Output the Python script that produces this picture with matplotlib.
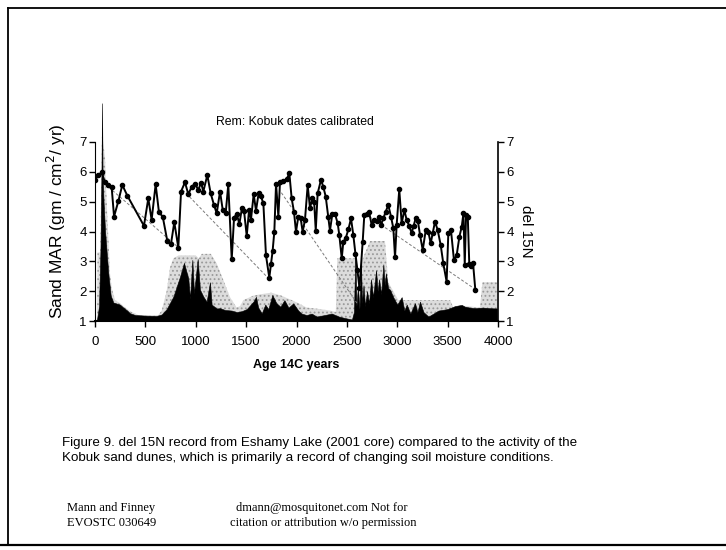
import matplotlib
matplotlib.use("Agg")
import matplotlib.pyplot as plt
from matplotlib.lines import Line2D

# ---------------- data ----------------
d15n_age = [0, 33, 66, 99, 132, 165, 189, 232, 271, 321, 486, 529, 562, 602, 635, 672,
            718, 754, 787, 827, 854, 893, 926, 960, 993, 1026, 1052, 1075, 1115, 1148,
            1181, 1208, 1241, 1268, 1297, 1323, 1357, 1380, 1406, 1433, 1459, 1479, 1506,
            1529, 1548, 1575, 1598, 1625, 1644, 1671, 1697, 1730, 1747, 1763, 1780, 1797,
            1820, 1836, 1869, 1902, 1929, 1952, 1975, 1995, 2018, 2041, 2061, 2084, 2111,
            2134, 2157, 2175, 2191, 2210, 2243, 2266, 2290, 2316, 2332, 2356, 2382, 2409,
            2425, 2449, 2465, 2488, 2515, 2541, 2564, 2585, 2605, 2625, 2657, 2673, 2697,
            2720, 2746, 2773, 2800, 2819, 2839, 2862, 2885, 2911, 2938, 2961, 2978, 2994,
            3020, 3044, 3070, 3094, 3118, 3143, 3163, 3183, 3205, 3226, 3253, 3283, 3308,
            3332, 3352, 3375, 3401, 3431, 3457, 3490, 3507, 3533, 3563, 3590, 3617, 3640,
            3657, 3670, 3683, 3700, 3715, 3735, 3752, 3775]
d15n_val = [5.73, 5.89, 5.98, 5.65, 5.56, 5.50, 4.50, 5.02, 5.56, 5.20, 4.19, 5.11, 4.39,
            5.58, 4.64, 4.50, 3.68, 3.58, 4.31, 3.46, 5.34, 5.65, 5.25, 5.50, 5.60, 5.39,
            5.64, 5.34, 5.89, 5.28, 4.89, 4.61, 5.34, 4.72, 4.61, 5.58, 3.07, 4.45, 4.60,
            4.25, 4.80, 4.70, 3.85, 4.72, 4.40, 5.25, 4.70, 5.30, 5.20, 4.95, 3.20, 2.45,
            2.90, 3.35, 4.00, 5.60, 4.50, 5.65, 5.70, 5.75, 5.95, 5.11, 4.66, 3.99, 4.50,
            4.45, 3.99, 4.39, 5.55, 4.78, 5.11, 5.00, 4.03, 5.28, 5.73, 5.50, 5.17, 4.47,
            4.03, 4.59, 4.59, 4.27, 3.88, 3.10, 3.66, 3.77, 4.07, 4.44, 3.88, 3.25, 2.70,
            2.10, 3.66, 4.55, 4.60, 4.66, 4.22, 4.39, 4.35, 4.50, 4.22, 4.44, 4.66, 4.89,
            4.50, 4.11, 3.13, 4.22, 5.41, 4.27, 4.72, 4.38, 4.20, 3.94, 4.20, 4.44, 4.35,
            3.88, 3.38, 4.05, 4.00, 3.60, 3.95, 4.33, 4.05, 3.55, 2.93, 2.32, 3.94, 4.05,
            3.04, 3.21, 3.83, 4.16, 4.61, 2.88, 4.55, 4.50, 2.90, 2.85, 2.95, 2.04]

# Sand MAR (black record)
mar_age = [0, 20, 40, 55, 65, 70, 75, 85, 100, 116, 132, 156, 182, 248, 281, 320, 347,
           400, 500, 612, 662, 711, 778, 844, 883, 926, 943, 966, 983, 1019, 1042, 1075,
           1108, 1141, 1158, 1208, 1241, 1290, 1357, 1406, 1456, 1506, 1572, 1598, 1620,
           1655, 1690, 1720, 1760, 1800, 1840, 1880, 1920, 1968, 2018, 2050, 2100, 2150,
           2200, 2280, 2350, 2420, 2480, 2550, 2570, 2585, 2595, 2610, 2625, 2640, 2650,
           2665, 2680, 2700, 2720, 2740, 2760, 2790, 2805, 2820, 2840, 2862, 2875, 2887,
           2910, 2928, 2960, 3000, 3044, 3070, 3094, 3130, 3176, 3200, 3226, 3260, 3309,
           3360, 3408, 3500, 3573, 3640, 3672, 3720, 3772, 3850, 3920, 3990]
mar_val = [1.0, 1.05, 1.5, 3.5, 6.2, 8.3, 6.0, 5.0, 4.0, 3.3, 2.6, 1.85, 1.62, 1.55, 1.45,
           1.35, 1.26, 1.2, 1.18, 1.17, 1.22, 1.4, 1.82, 2.49, 2.95, 2.43, 1.75, 3.05, 1.93,
           3.08, 2.05, 1.82, 1.65, 2.3, 1.55, 1.42, 1.43, 1.37, 1.35, 1.3, 1.33, 1.4, 1.65,
           1.81, 1.45, 1.26, 1.55, 1.4, 1.87, 1.6, 1.48, 1.7, 1.45, 1.59, 1.35, 1.25, 1.2,
           1.25, 1.15, 1.2, 1.25, 1.15, 1.1, 1.05, 1.3, 3.3, 1.5, 2.2, 1.4, 3.0, 1.6, 2.2,
           1.5, 2.0, 1.6, 2.4, 1.8, 2.7, 2.0, 2.4, 1.9, 2.9, 2.2, 2.6, 2.1, 2.05, 1.8, 1.55,
           1.8, 1.35, 1.55, 1.25, 1.6, 1.3, 1.65, 1.3, 1.15, 1.25, 1.35, 1.4, 1.5, 1.54,
           1.48, 1.45, 1.43, 1.45, 1.43, 1.42]

# grey (stippled) envelope
env_age = [0, 20, 25, 50, 60, 70, 80, 99, 116, 132, 149, 166, 199, 248, 300, 364, 430,
           629, 662, 711, 745, 778, 830, 1000, 1030, 1060, 1150, 1208, 1274, 1340, 1406,
           1440, 1472, 1572, 1650, 1750, 1850, 1952, 2018, 2101, 2233, 2333, 2390, 2405,
           2590, 2597, 2630, 2647, 2730, 2878, 2911, 2961, 3011, 3094, 3160, 3524, 3557,
           3689, 3821, 3845, 3990]
env_val = [1.0, 1.0, 3.3, 3.3, 5.0, 7.6, 7.0, 6.5, 5.0, 3.8, 2.6, 2.1, 1.7, 1.6, 1.45,
           1.3, 1.2, 1.2, 1.35, 2.0, 2.8, 3.1, 3.2, 3.2, 3.1, 3.25, 3.25, 2.93, 2.37, 1.8,
           1.45, 1.5, 1.7, 1.85, 1.9, 1.95, 1.85, 1.7, 1.6, 1.45, 1.4, 1.35, 1.3, 3.1, 3.1,
           1.1, 1.3, 3.0, 3.68, 3.68, 2.3, 2.0, 1.7, 1.7, 1.7, 1.7, 1.45, 1.5, 1.45, 2.3,
           2.3]

# dotted trend segments (start age, start value, end age, end value)
trend_x0 = [100, 870, 1850, 2720]
trend_y0 = [5.59, 5.4, 5.3, 4.5]
trend_x1 = [830, 1730, 2600, 3780]
trend_y1 = [3.46, 2.4, 1.6, 2.05]

xticks = [0, 500, 1000, 1500, 2000, 2500, 3000, 3500, 4000]
yticks = [1, 2, 3, 4, 5, 6, 7]

# ---------------- figure ----------------
W, H = 726, 550
fig = plt.figure(figsize=(W / 100, H / 100), dpi=100)
fig.patch.set_facecolor("white")
plt.rcParams["font.family"] = ["Liberation Sans", "DejaVu Sans"]
plt.rcParams["hatch.linewidth"] = 0.8

def fx(px):
    return px / W

def fy(py):
    return 1 - py / H

ax = fig.add_axes([fx(95), fy(321), fx(498) - fx(95), fy(142) - fy(321)])
ax.set_xlim(0, 4000)
ax.set_ylim(1, 7)

ax.fill_between(env_age, 1, env_val, facecolor="#dcdcdc", edgecolor="#9a9a9a",
                hatch="....", linewidth=0, zorder=1, clip_on=False)
ax.fill_between(mar_age, 1, mar_val, facecolor="black", edgecolor="black",
                linewidth=0.4, zorder=2, clip_on=False)
for a0, v0, a1, v1 in zip(trend_x0, trend_y0, trend_x1, trend_y1):
    ax.plot([a0, a1], [v0, v1], color="#7a7a7a", lw=0.7, ls=(0, (3, 2)), zorder=3)
ax.plot(d15n_age, d15n_val, color="black", lw=1.4, marker="o", markersize=3.0,
        zorder=4)

for s in ["top", "right"]:
    ax.spines[s].set_visible(False)
ax.spines["left"].set_linewidth(0.8)
ax.spines["bottom"].set_linewidth(1.5)
ax.set_xticks(xticks)
ax.set_yticks(yticks)
ax.tick_params(axis="both", direction="out", length=4, width=1, labelsize=9.5,
               pad=2, colors="black")
ax.tick_params(axis="x", pad=7)

ax2 = ax.twinx()
ax2.set_ylim(1, 7)
ax2.set_yticks(yticks)
for s in ["top", "left", "bottom"]:
    ax2.spines[s].set_visible(False)
ax2.spines["right"].set_linewidth(1.2)
ax2.tick_params(axis="y", direction="out", length=4, width=1, labelsize=9.5, pad=2)

ax.set_xlabel("Age 14C years", fontsize=9, fontweight="bold", labelpad=8)
ax2.set_ylabel("del 15N", fontsize=11, rotation=270, labelpad=14)
fig.text(fx(56), fy(221), "Sand MAR (gm / cm$^2$/ yr)", fontsize=12.5,
         rotation=90, ha="center", va="center")

fig.text(fx(295), fy(122), "Rem: Kobuk dates calibrated", fontsize=8.8,
         ha="center", va="center")

fig.text(fx(62), fy(443), "Figure 9. del 15N record from Eshamy Lake (2001 core) "
         "compared to the activity of the", fontsize=9.6, ha="left", va="center")
fig.text(fx(62), fy(458), "Kobuk sand dunes, which is primarily a record of changing "
         "soil moisture conditions.", fontsize=9.6, ha="left", va="center")

serif = ["Liberation Serif", "DejaVu Serif"]
fig.text(fx(67), fy(508), "Mann and Finney", fontsize=9, family=serif,
         ha="left", va="center")
fig.text(fx(67), fy(523), "EVOSTC 030649", fontsize=9, family=serif,
         ha="left", va="center")
fig.text(fx(322), fy(508), "dmann@mosquitonet.com Not for", fontsize=9, family=serif,
         ha="center", va="center")
fig.text(fx(323), fy(523), "citation or attribution w/o permission", fontsize=9,
         family=serif, ha="center", va="center")

# page frame
fig.add_artist(Line2D([fx(8), fx(8)], [fy(8), fy(545)], color="black", lw=1.3))
fig.add_artist(Line2D([fx(8), fx(726)], [fy(8), fy(8)], color="black", lw=1.3))
fig.add_artist(Line2D([fx(0), fx(726)], [fy(545), fy(545)], color="black", lw=1.6))

fig.savefig("out.png", dpi=100, facecolor="white")
